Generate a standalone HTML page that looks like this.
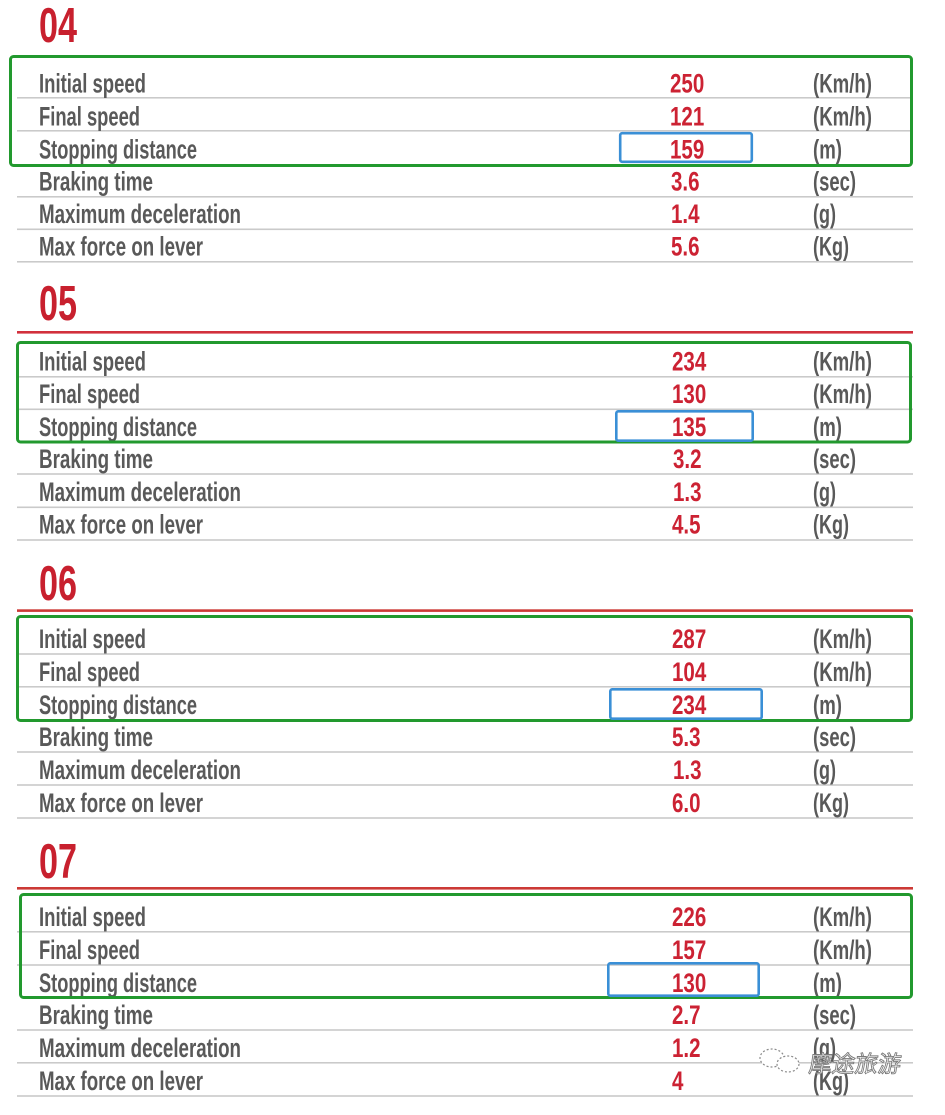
<!DOCTYPE html>
<html>
<head>
<meta charset="utf-8">
<style>
html,body{margin:0;padding:0;background:#fff;}
svg{display:block;}
.lab{font-family:"Liberation Sans",sans-serif;font-weight:bold;font-size:27px;fill:#595959;}
.val{font-family:"Liberation Sans",sans-serif;font-weight:bold;font-size:27px;fill:#cc2233;}
.ttl{font-family:"Liberation Sans",sans-serif;font-weight:bold;font-size:49px;fill:#c8202e;}
.wm{font-family:"Liberation Sans","Noto Sans CJK SC",sans-serif;font-size:23px;fill:#fff;stroke:#7a7a7a;stroke-width:0.9px;}
</style>
</head>
<body>
<svg width="945" height="1115" viewBox="0 0 945 1115" xmlns="http://www.w3.org/2000/svg">
<rect x="0" y="0" width="945" height="1115" fill="#fff"/>

<!-- ===== 04 ===== -->
<text class="ttl" x="39" y="42" textLength="38" lengthAdjust="spacingAndGlyphs">04</text>
<g fill="#cacaca">
<rect x="17" y="97" width="896" height="1.6"/>
<rect x="17" y="130" width="896" height="1.6"/>
<rect x="17" y="196" width="896" height="1.6"/>
<rect x="17" y="228.5" width="896" height="1.6"/>
<rect x="17" y="261" width="896" height="1.6"/>
</g>
<g class="lab">
<text x="39" y="92.5" textLength="107" lengthAdjust="spacingAndGlyphs">Initial speed</text>
<text x="39" y="125.5" textLength="101" lengthAdjust="spacingAndGlyphs">Final speed</text>
<text x="39" y="158.5" textLength="158" lengthAdjust="spacingAndGlyphs">Stopping distance</text>
<text x="39" y="190.5" textLength="114" lengthAdjust="spacingAndGlyphs">Braking time</text>
<text x="39" y="223" textLength="202" lengthAdjust="spacingAndGlyphs">Maximum deceleration</text>
<text x="39" y="255.5" textLength="164" lengthAdjust="spacingAndGlyphs">Max force on lever</text>
<text x="813" y="92.5" textLength="59" lengthAdjust="spacingAndGlyphs">(Km/h)</text>
<text x="813" y="125.5" textLength="59" lengthAdjust="spacingAndGlyphs">(Km/h)</text>
<text x="813" y="158.5" textLength="29" lengthAdjust="spacingAndGlyphs">(m)</text>
<text x="813" y="190.5" textLength="43" lengthAdjust="spacingAndGlyphs">(sec)</text>
<text x="813" y="223" textLength="23" lengthAdjust="spacingAndGlyphs">(g)</text>
<text x="813" y="255.5" textLength="36" lengthAdjust="spacingAndGlyphs">(Kg)</text>
</g>
<g class="val">
<text transform="translate(670,92.5) scale(0.76,1)">250</text>
<text transform="translate(670,125.5) scale(0.76,1)">121</text>
<text transform="translate(670,158.5) scale(0.76,1)">159</text>
<text transform="translate(671,190.5) scale(0.76,1)">3.6</text>
<text transform="translate(671,223) scale(0.76,1)">1.4</text>
<text transform="translate(671,255.5) scale(0.76,1)">5.6</text>
</g>
<rect x="10.5" y="56.5" width="901" height="109" rx="3" fill="none" stroke="#22992e" stroke-width="3"/>
<rect x="620.2" y="133.2" width="131.6" height="28.6" rx="2" fill="none" stroke="#3a8fd6" stroke-width="2.6"/>

<!-- ===== 05 ===== -->
<text class="ttl" x="39" y="320" textLength="38" lengthAdjust="spacingAndGlyphs">05</text>
<rect x="17" y="331" width="896" height="2.6" fill="#d2303c"/>
<g fill="#cacaca">
<rect x="17" y="376" width="896" height="1.6"/>
<rect x="17" y="408.5" width="896" height="1.6"/>
<rect x="17" y="473.2" width="896" height="1.6"/>
<rect x="17" y="506.5" width="896" height="1.6"/>
<rect x="17" y="539.2" width="896" height="1.6"/>
</g>
<g class="lab">
<text x="39" y="370.5" textLength="107" lengthAdjust="spacingAndGlyphs">Initial speed</text>
<text x="39" y="403" textLength="101" lengthAdjust="spacingAndGlyphs">Final speed</text>
<text x="39" y="436" textLength="158" lengthAdjust="spacingAndGlyphs">Stopping distance</text>
<text x="39" y="468" textLength="114" lengthAdjust="spacingAndGlyphs">Braking time</text>
<text x="39" y="501" textLength="202" lengthAdjust="spacingAndGlyphs">Maximum deceleration</text>
<text x="39" y="533.5" textLength="164" lengthAdjust="spacingAndGlyphs">Max force on lever</text>
<text x="813" y="370.5" textLength="59" lengthAdjust="spacingAndGlyphs">(Km/h)</text>
<text x="813" y="403" textLength="59" lengthAdjust="spacingAndGlyphs">(Km/h)</text>
<text x="813" y="436" textLength="29" lengthAdjust="spacingAndGlyphs">(m)</text>
<text x="813" y="468" textLength="43" lengthAdjust="spacingAndGlyphs">(sec)</text>
<text x="813" y="501" textLength="23" lengthAdjust="spacingAndGlyphs">(g)</text>
<text x="813" y="533.5" textLength="36" lengthAdjust="spacingAndGlyphs">(Kg)</text>
</g>
<g class="val">
<text transform="translate(672,370.5) scale(0.76,1)">234</text>
<text transform="translate(672,403) scale(0.76,1)">130</text>
<text transform="translate(672,436) scale(0.76,1)">135</text>
<text transform="translate(673,468) scale(0.76,1)">3.2</text>
<text transform="translate(673,501) scale(0.76,1)">1.3</text>
<text transform="translate(672,533.5) scale(0.76,1)">4.5</text>
</g>
<rect x="17.5" y="342.5" width="893" height="99.5" rx="3" fill="none" stroke="#22992e" stroke-width="3"/>
<rect x="616.3" y="411.3" width="136.4" height="29.4" rx="2" fill="none" stroke="#3a8fd6" stroke-width="2.6"/>

<!-- ===== 06 ===== -->
<text class="ttl" x="39" y="600" textLength="38" lengthAdjust="spacingAndGlyphs">06</text>
<rect x="17" y="609.3" width="896" height="2.6" fill="#cc3a36"/>
<g fill="#cacaca">
<rect x="17" y="653.2" width="896" height="1.6"/>
<rect x="17" y="686" width="896" height="1.6"/>
<rect x="17" y="751.2" width="896" height="1.6"/>
<rect x="17" y="784.2" width="896" height="1.6"/>
<rect x="17" y="817.2" width="896" height="1.6"/>
</g>
<g class="lab">
<text x="39" y="648" textLength="107" lengthAdjust="spacingAndGlyphs">Initial speed</text>
<text x="39" y="681" textLength="101" lengthAdjust="spacingAndGlyphs">Final speed</text>
<text x="39" y="714" textLength="158" lengthAdjust="spacingAndGlyphs">Stopping distance</text>
<text x="39" y="746" textLength="114" lengthAdjust="spacingAndGlyphs">Braking time</text>
<text x="39" y="779" textLength="202" lengthAdjust="spacingAndGlyphs">Maximum deceleration</text>
<text x="39" y="812" textLength="164" lengthAdjust="spacingAndGlyphs">Max force on lever</text>
<text x="813" y="648" textLength="59" lengthAdjust="spacingAndGlyphs">(Km/h)</text>
<text x="813" y="681" textLength="59" lengthAdjust="spacingAndGlyphs">(Km/h)</text>
<text x="813" y="714" textLength="29" lengthAdjust="spacingAndGlyphs">(m)</text>
<text x="813" y="746" textLength="43" lengthAdjust="spacingAndGlyphs">(sec)</text>
<text x="813" y="779" textLength="23" lengthAdjust="spacingAndGlyphs">(g)</text>
<text x="813" y="812" textLength="36" lengthAdjust="spacingAndGlyphs">(Kg)</text>
</g>
<g class="val">
<text transform="translate(672,648) scale(0.76,1)">287</text>
<text transform="translate(672,681) scale(0.76,1)">104</text>
<text transform="translate(672,714) scale(0.76,1)">234</text>
<text transform="translate(672,746) scale(0.76,1)">5.3</text>
<text transform="translate(673,779) scale(0.76,1)">1.3</text>
<text transform="translate(672,812) scale(0.76,1)">6.0</text>
</g>
<rect x="17.5" y="616.5" width="894" height="104" rx="3" fill="none" stroke="#22992e" stroke-width="3"/>
<rect x="610.3" y="689.3" width="151.4" height="29.4" rx="2" fill="none" stroke="#3a8fd6" stroke-width="2.6"/>

<!-- ===== 07 ===== -->
<text class="ttl" x="39" y="878" textLength="38" lengthAdjust="spacingAndGlyphs">07</text>
<rect x="17" y="887" width="896" height="2.6" fill="#cc3a36"/>
<g fill="#cacaca">
<rect x="17" y="931" width="896" height="1.6"/>
<rect x="17" y="964.2" width="896" height="1.6"/>
<rect x="17" y="1029.2" width="896" height="1.6"/>
<rect x="17" y="1062" width="896" height="1.6"/>
<rect x="17" y="1095.2" width="896" height="1.6"/>
</g>
<g class="lab">
<text x="39" y="926" textLength="107" lengthAdjust="spacingAndGlyphs">Initial speed</text>
<text x="39" y="959" textLength="101" lengthAdjust="spacingAndGlyphs">Final speed</text>
<text x="39" y="992" textLength="158" lengthAdjust="spacingAndGlyphs">Stopping distance</text>
<text x="39" y="1024" textLength="114" lengthAdjust="spacingAndGlyphs">Braking time</text>
<text x="39" y="1057" textLength="202" lengthAdjust="spacingAndGlyphs">Maximum deceleration</text>
<text x="39" y="1090" textLength="164" lengthAdjust="spacingAndGlyphs">Max force on lever</text>
<text x="813" y="926" textLength="59" lengthAdjust="spacingAndGlyphs">(Km/h)</text>
<text x="813" y="959" textLength="59" lengthAdjust="spacingAndGlyphs">(Km/h)</text>
<text x="813" y="992" textLength="29" lengthAdjust="spacingAndGlyphs">(m)</text>
<text x="813" y="1024" textLength="43" lengthAdjust="spacingAndGlyphs">(sec)</text>
<text x="813" y="1057" textLength="23" lengthAdjust="spacingAndGlyphs">(g)</text>
<text x="813" y="1090" textLength="36" lengthAdjust="spacingAndGlyphs">(Kg)</text>
</g>
<g class="val">
<text transform="translate(672,926) scale(0.76,1)">226</text>
<text transform="translate(672,959) scale(0.76,1)">157</text>
<text transform="translate(672,992) scale(0.76,1)">130</text>
<text transform="translate(672,1024) scale(0.76,1)">2.7</text>
<text transform="translate(672,1057) scale(0.76,1)">1.2</text>
<text transform="translate(672,1090) scale(0.76,1)">4</text>
</g>
<rect x="20.5" y="894.5" width="891" height="103" rx="3" fill="none" stroke="#22992e" stroke-width="3"/>
<rect x="608.3" y="963.3" width="150.4" height="32.4" rx="2" fill="none" stroke="#3a8fd6" stroke-width="2.6"/>

<!-- watermark -->
<g fill="#fff" stroke="#8a8a8a" stroke-width="1.2" stroke-dasharray="2 2">
<ellipse cx="772" cy="1058" rx="12" ry="9"/>
<ellipse cx="788" cy="1064" rx="11" ry="8"/>
</g>
<text class="wm" x="808" y="1072" transform="translate(808,1072) skewX(-8) translate(-808,-1072)">摩途旅游</text>
</svg>
</body>
</html>
